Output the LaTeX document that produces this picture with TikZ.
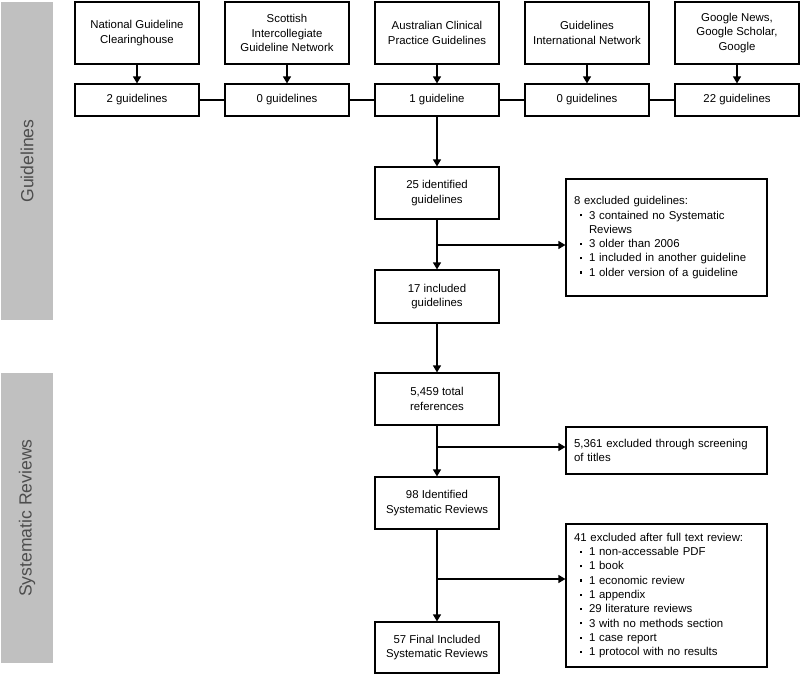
\documentclass[tikz,border=0pt]{standalone}
\usepackage{fontspec}
\setmainfont{Liberation Sans}
\usepackage{tikz}
\usetikzlibrary{arrows.meta,calc}
\definecolor{bargray}{HTML}{C0C0C0}
\definecolor{bartext}{HTML}{4D4D4D}
\newcommand{\sqb}{\hspace*{6pt}\makebox[9pt][l]{\raisebox{2.6pt}{\rule{2.2pt}{2.2pt}}}}
\newcommand{\cont}{\hspace*{15pt}}

\begin{document}
\begin{tikzpicture}[x=1pt,y=-1pt,
  every node/.style={font=\fontsize{11.4}{14.3}\selectfont},
  box/.style={draw,line width=1.2pt,minimum width=124pt,align=center,inner sep=2pt},
  exbox/.style={draw,line width=1.2pt,minimum width=201pt,text width=185pt,align=left,inner xsep=8pt,inner ysep=2pt},
  bar/.style={fill=bargray,text=bartext,minimum height=52pt,rotate=90,font=\fontsize{17.6}{20}\selectfont},
  arr/.style={line width=1.2pt,-{Triangle[length=7pt,width=8pt]}},
  link/.style={line width=1.2pt}]
\useasboundingbox (0,0) rectangle (800,675);

% side bars
\node[bar,minimum width=318pt] (guidebar) at (27,161) {Guidelines};
\node[bar,minimum width=290pt] (revbar) at (27,518) {Systematic Reviews};

% sources
\node[box,minimum height=62pt] (ngc) at (137,33) {National Guideline\\Clearinghouse};
\node[box,minimum height=62pt] (sign) at (287,33) {Scottish\\Intercollegiate\\Guideline Network};
\node[box,minimum height=62pt] (acpg) at (437,33) {Australian Clinical\\Practice Guidelines};
\node[box,minimum height=62pt] (gin) at (587,33) {Guidelines\\International Network};
\node[box,minimum height=62pt] (goog) at (737,33) {Google News,\\Google Scholar,\\Google};

% counts
\node[box,minimum height=32pt] (ngcn) at (137,100) {2 guidelines};
\node[box,minimum height=32pt] (signn) at (287,100) {0 guidelines};
\node[box,minimum height=32pt] (acpgn) at (437,100) {1 guideline};
\node[box,minimum height=32pt] (ginn) at (587,100) {0 guidelines};
\node[box,minimum height=32pt] (googn) at (737,100) {22 guidelines};

% guideline flow
\node[box,minimum height=52pt] (identified) at (437,193) {25 identified\\guidelines};
\node[box,minimum height=53pt] (included) at (437,296.5) {17 included\\guidelines};
\node[exbox,minimum height=117pt] (exguide) at (666.5,237.5) {8 excluded guidelines:\\
\sqb 3 contained no Systematic\\
\cont Reviews\\
\sqb 3 older than 2006\\
\sqb 1 included in another guideline\\
\sqb 1 older version of a guideline\\[6pt]};

% review flow
\node[box,minimum height=52pt] (total) at (437,399) {5,459 total\\references};
\node[box,minimum height=52pt] (identrev) at (437,503) {98 Identified\\Systematic Reviews};
\node[box,minimum height=51pt] (final) at (437,647.5) {57 Final Included\\Systematic Reviews};
\node[exbox,minimum height=47pt] (extitles) at (666.5,450.5) {5,361 excluded through screening of titles};
\node[exbox,minimum height=143pt] (exfull) at (666.5,595.5) {41 excluded after full text review:\\
\sqb 1 non-accessable PDF\\
\sqb 1 book\\
\sqb 1 economic review\\
\sqb 1 appendix\\
\sqb 29 literature reviews\\
\sqb 3 with no methods section\\
\sqb 1 case report\\
\sqb 1 protocol with no results};

\foreach \s in {ngc,sign,acpg,gin,goog}
  \draw[arr] (\s) -- (\s n);
\draw[link] (ngcn) -- (signn) -- (acpgn) -- (ginn) -- (googn);

\draw[arr] (acpgn) -- (identified);
\draw[arr] (identified) -- (included);
\coordinate (split1) at (437,245);
\draw[arr] (split1) -- (split1 -| exguide.west);
\draw[arr] (included) -- (total);
\draw[arr] (total) -- (identrev);
\coordinate (split2) at (437,447);
\draw[arr] (split2) -- (split2 -| extitles.west);
\draw[arr] (identrev) -- (final);
\coordinate (split3) at (437,579);
\draw[arr] (split3) -- (split3 -| exfull.west);
\end{tikzpicture}
\end{document}
